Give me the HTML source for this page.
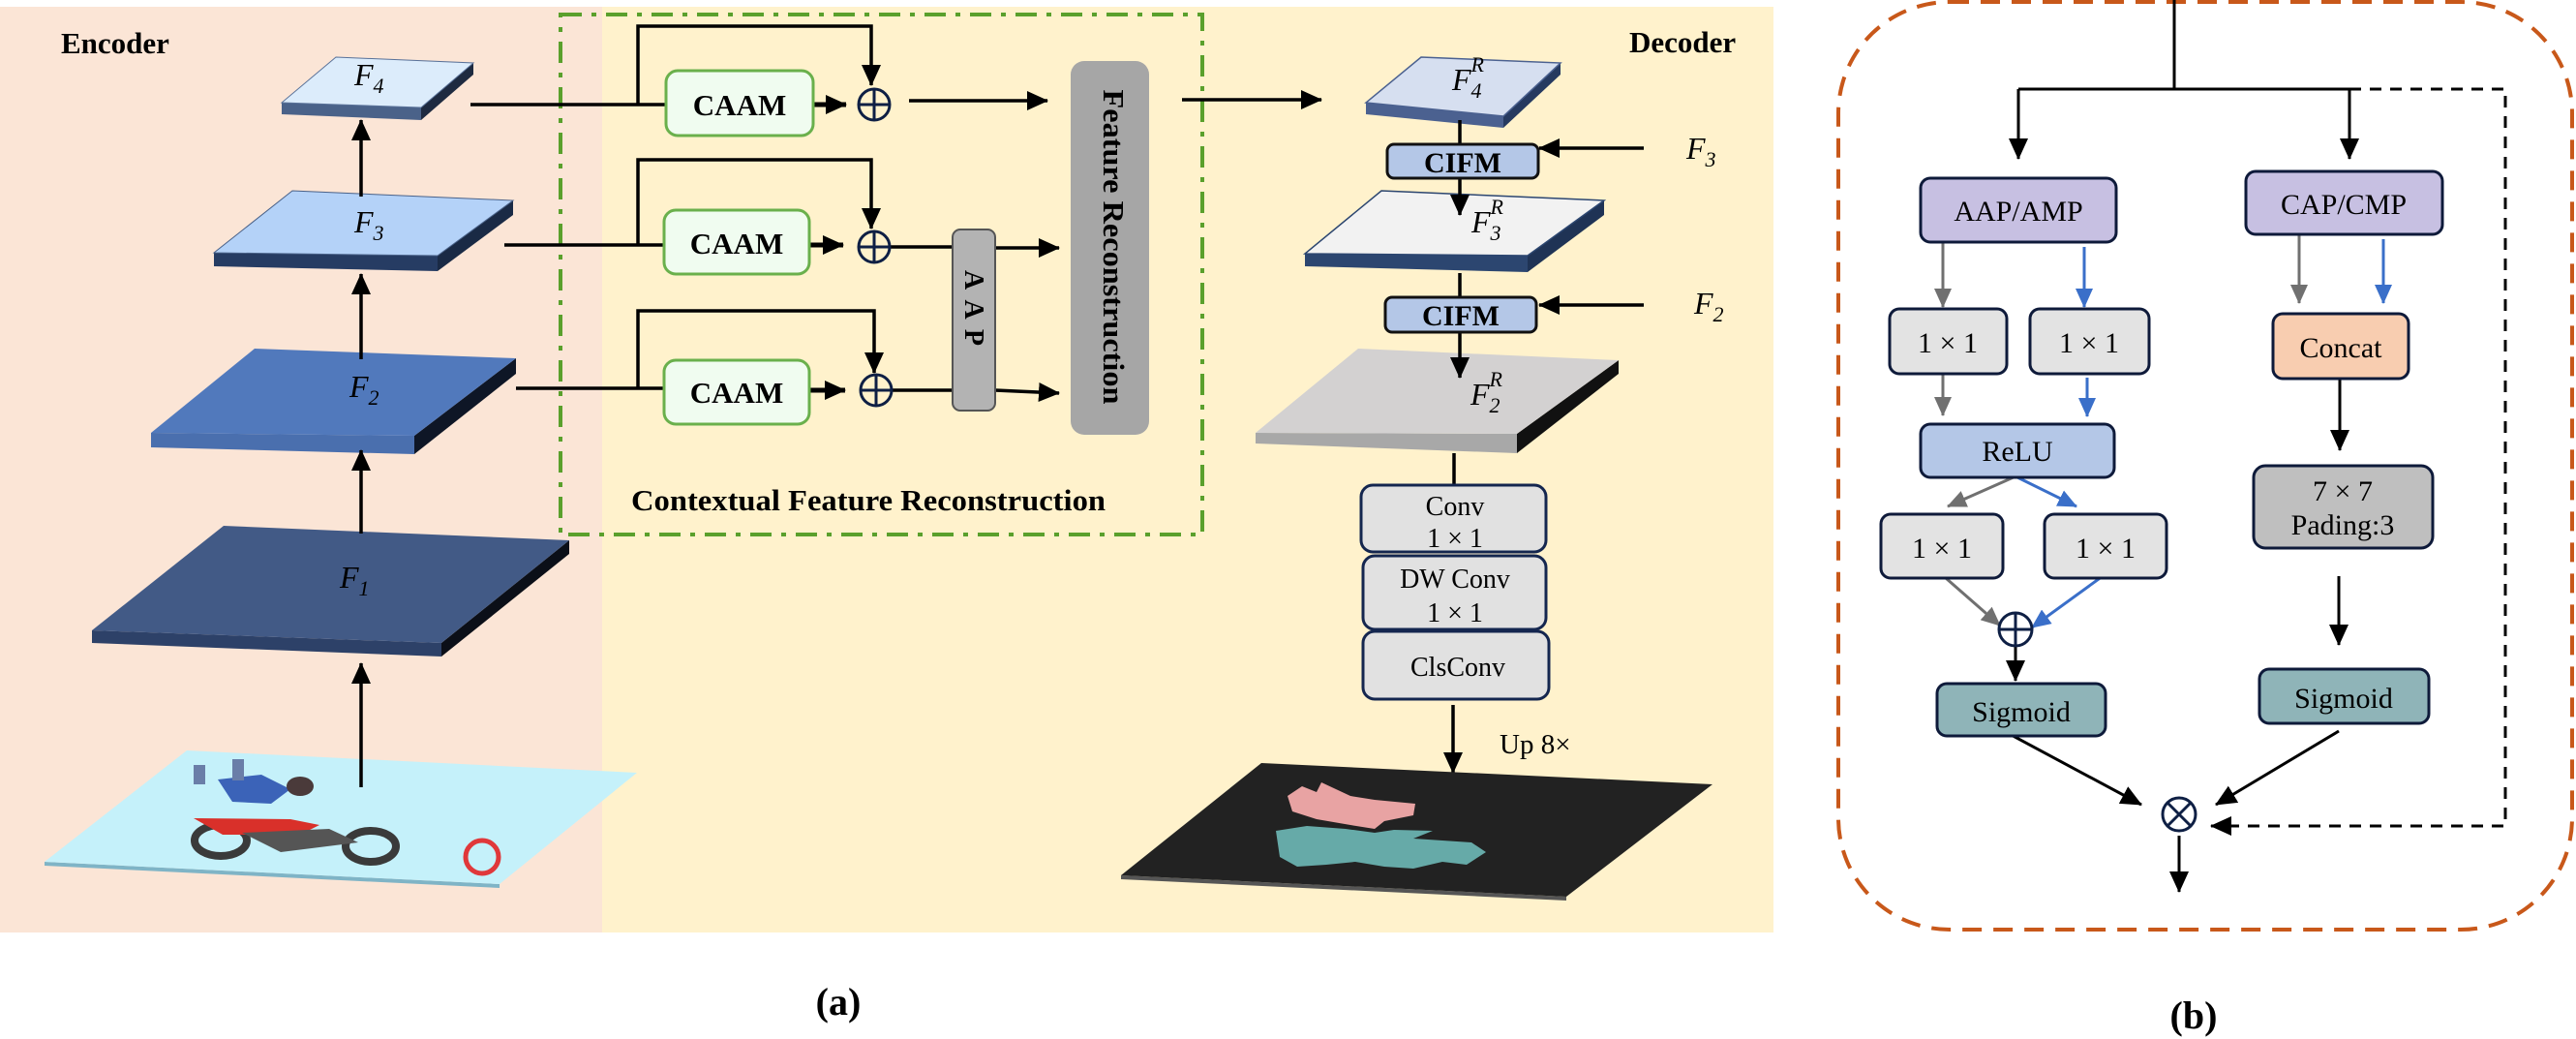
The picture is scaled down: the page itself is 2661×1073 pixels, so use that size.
<!DOCTYPE html>
<html><head><meta charset="utf-8"><style>
html,body{margin:0;padding:0;background:#fff}
svg{display:block}
text{font-family:"Liberation Serif",serif}
</style></head><body>
<svg width="2661" height="1073" viewBox="0 0 2661 1073" xmlns="http://www.w3.org/2000/svg">
<defs>
<marker id="ab" markerUnits="userSpaceOnUse" markerWidth="22" markerHeight="20" refX="21" refY="10" orient="auto"><path d="M0,0 L22,10 L0,20 z" fill="#000"/></marker>
<marker id="ag" markerUnits="userSpaceOnUse" markerWidth="20" markerHeight="18" refX="19" refY="9" orient="auto"><path d="M0,0 L20,9 L0,18 z" fill="#707070"/></marker>
<marker id="ablue" markerUnits="userSpaceOnUse" markerWidth="20" markerHeight="18" refX="19" refY="9" orient="auto"><path d="M0,0 L20,9 L0,18 z" fill="#3a6fc9"/></marker>
<clipPath id="imgclip"><polygon points="193,775 658,798 516,913 46,890"/></clipPath>
</defs>
<rect width="2661" height="1073" fill="#fff"/>
<rect x="0" y="7" width="622" height="956" fill="#fbe5d6"/>
<rect x="622" y="7" width="1210" height="956" fill="#fff2cc"/>

<text x="63" y="55" font-size="31" font-weight="bold">Encoder</text>
<text x="1683" y="54" font-size="31" font-weight="bold">Decoder</text>

<g>
<polygon points="291,106 435,111 435,124 291,118" fill="#4a6289"/>
<polygon points="489,65 435,111 435,124 489,77" fill="#1e2a40"/>
<polygon points="347,59 489,65 435,111 291,106" fill="#dcecfb" stroke="#5a7299" stroke-width="1"/>
<text x="366" y="88" font-size="32" font-style="italic">F<tspan font-size="22" dy="8">4</tspan></text>

<polygon points="221,261 452,264 452,280 221,275" fill="#263c63"/>
<polygon points="530,207 452,264 452,280 530,222" fill="#1a2a45"/>
<polygon points="302,197 530,207 452,264 221,261" fill="#b4d2f8" stroke="#4a6289" stroke-width="1"/>
<text x="366" y="240" font-size="32" font-style="italic">F<tspan font-size="22" dy="8">3</tspan></text>

<polygon points="156,447 428,450 428,469 156,462" fill="#4a6fae"/>
<polygon points="533,370 428,450 428,469 533,386" fill="#0e1626"/>
<polygon points="263,360 533,370 428,450 156,447" fill="#5179bc"/>
<text x="361" y="410" font-size="32" font-style="italic">F<tspan font-size="22" dy="8">2</tspan></text>

<polygon points="95,651 456,664 456,678 95,664" fill="#2d4168"/>
<polygon points="588,558 456,664 456,678 588,572" fill="#0b0f18"/>
<polygon points="231,543 588,558 456,664 95,651" fill="#425a86"/>
<text x="351" y="607" font-size="32" font-style="italic">F<tspan font-size="22" dy="8">1</tspan></text>

<polygon points="46,890 516,913 516,917 46,894" fill="#7fb4c6"/>
<polygon points="193,775 658,798 516,913 46,890" fill="#c5f1fa"/>
<g clip-path="url(#imgclip)">
<ellipse cx="228" cy="868" rx="27" ry="16" fill="none" stroke="#3a3a3a" stroke-width="8"/>
<ellipse cx="383" cy="874" rx="26" ry="16" fill="none" stroke="#3a3a3a" stroke-width="8"/>
<polygon points="200,845 300,846 330,852 310,862 230,862" fill="#d9302a"/>
<polygon points="250,860 340,856 370,870 290,880" fill="#555"/>
<polygon points="225,805 270,800 300,815 280,830 240,828" fill="#3b63b8"/>
<ellipse cx="310" cy="812" rx="14" ry="10" fill="#4a3a3a"/>
<rect x="200" y="790" width="12" height="20" fill="#6a7ea8"/>
<rect x="240" y="784" width="12" height="22" fill="#6a7ea8"/>
<circle cx="498" cy="885" r="17" fill="none" stroke="#e0383a" stroke-width="5"/>
</g>

<g stroke="#000" stroke-width="3.5" marker-end="url(#ab)">
<line x1="373" y1="203" x2="373" y2="124"/>
<line x1="373" y1="371" x2="373" y2="283"/>
<line x1="373" y1="551" x2="373" y2="465"/>
<line x1="373" y1="813" x2="373" y2="685"/>
</g>
</g>

<rect x="579" y="15" width="663" height="537" fill="none" stroke="#5aa02c" stroke-width="4" stroke-dasharray="22,10,5,10"/>
<text x="652" y="527" font-size="31" font-weight="bold" textLength="490" lengthAdjust="spacingAndGlyphs">Contextual Feature Reconstruction</text>

<g fill="none" stroke="#000" stroke-width="3.5">
<line x1="486" y1="108" x2="688" y2="108"/>
<path d="M659,108 V27 H900 V88" marker-end="url(#ab)"/>
<line x1="521" y1="253" x2="686" y2="253"/>
<path d="M659,253 V165 H900 V236" marker-end="url(#ab)"/>
<line x1="533" y1="401" x2="686" y2="401"/>
<path d="M659,401 V321 H903 V385" marker-end="url(#ab)"/>
<line x1="840" y1="108" x2="874" y2="108" stroke-width="5" marker-end="url(#ab)"/>
<line x1="836" y1="253" x2="871" y2="253" stroke-width="5" marker-end="url(#ab)"/>
<line x1="836" y1="403" x2="873" y2="403" stroke-width="5" marker-end="url(#ab)"/>
<line x1="939" y1="104" x2="1082" y2="104" marker-end="url(#ab)"/>
<line x1="919" y1="255" x2="984" y2="255"/>
<line x1="921" y1="403" x2="984" y2="403"/>
<line x1="1028" y1="256" x2="1094" y2="256" marker-end="url(#ab)"/>
<line x1="1028" y1="403" x2="1094" y2="406" marker-end="url(#ab)"/>
<line x1="1221" y1="103" x2="1365" y2="103" marker-end="url(#ab)"/>
</g>
<g fill="#f0fcf0" stroke="#6ab04c" stroke-width="3">
<rect x="688" y="73" width="152" height="67" rx="12"/>
<rect x="686" y="217" width="150" height="66" rx="12"/>
<rect x="686" y="372" width="150" height="66" rx="12"/>
</g>
<g font-size="31" font-weight="bold" text-anchor="middle">
<text x="764" y="119">CAAM</text>
<text x="761" y="262">CAAM</text>
<text x="761" y="416">CAAM</text>
</g>
<g fill="none" stroke="#0e1f44" stroke-width="3">
<circle cx="903" cy="108" r="16"/><path d="M887,108 H919 M903,92 V124"/>
<circle cx="903" cy="255" r="16"/><path d="M887,255 H919 M903,239 V271"/>
<circle cx="905" cy="403" r="16"/><path d="M889,403 H921 M905,387 V419"/>
</g>
<rect x="984" y="237" width="44" height="187" rx="8" fill="#b3b3b3" stroke="#555" stroke-width="2"/>
<text transform="translate(997,318) rotate(90)" font-size="28" font-weight="bold" text-anchor="middle" textLength="78" lengthAdjust="spacing">AAP</text>
<rect x="1106" y="63" width="81" height="386" rx="14" fill="#a6a6a6"/>
<text transform="translate(1140,255) rotate(90)" font-size="31" font-weight="bold" text-anchor="middle" textLength="325" lengthAdjust="spacingAndGlyphs">Feature Reconstruction</text>

<polygon points="1411,106 1553,120 1553,132 1411,118" fill="#4b6190"/>
<polygon points="1612,65 1553,120 1553,132 1612,77" fill="#263a60"/>
<polygon points="1468,59 1612,65 1553,120 1411,106" fill="#d6dff0" stroke="#4b6190" stroke-width="1.5"/>
<text x="1500" y="93" font-size="32" font-style="italic">F<tspan font-size="22" dy="8">4</tspan><tspan font-size="22" dx="-11" dy="-27">R</tspan></text>

<polygon points="1348,262 1578,264 1578,281 1348,275" fill="#2c4670"/>
<polygon points="1657,207 1578,264 1578,281 1657,222" fill="#1f3355"/>
<polygon points="1427,197 1657,207 1578,264 1348,262" fill="#f2f2f2" stroke="#2c4670" stroke-width="1.5"/>
<text x="1520" y="240" font-size="32" font-style="italic">F<tspan font-size="22" dy="8">3</tspan><tspan font-size="22" dx="-11" dy="-27">R</tspan></text>

<polygon points="1297,447 1567,448 1567,468 1297,458" fill="#a8a8a8"/>
<polygon points="1672,372 1567,448 1567,468 1672,386" fill="#111"/>
<polygon points="1403,360 1672,372 1567,448 1297,447" fill="#d3d1d1"/>
<text x="1519" y="418" font-size="32" font-style="italic">F<tspan font-size="22" dy="8">2</tspan><tspan font-size="22" dx="-11" dy="-27">R</tspan></text>

<g stroke="#000" stroke-width="3.5" fill="none">
<line x1="1508" y1="124" x2="1508" y2="149"/>
<line x1="1508" y1="184" x2="1508" y2="222" marker-end="url(#ab)"/>
<line x1="1508" y1="282" x2="1508" y2="307"/>
<line x1="1508" y1="343" x2="1508" y2="390" marker-end="url(#ab)"/>
<line x1="1502" y1="468" x2="1502" y2="501"/>
<line x1="1698" y1="153" x2="1590" y2="153" marker-end="url(#ab)"/>
<line x1="1698" y1="315" x2="1590" y2="315" marker-end="url(#ab)"/>
<line x1="1501" y1="728" x2="1501" y2="798" marker-end="url(#ab)"/>
</g>
<g fill="#b4c7e7" stroke="#111" stroke-width="3">
<rect x="1433" y="149" width="156" height="35" rx="7"/>
<rect x="1431" y="307" width="156" height="36" rx="7"/>
</g>
<g font-size="30" font-weight="bold" text-anchor="middle">
<text x="1511" y="178">CIFM</text>
<text x="1509" y="336">CIFM</text>
</g>
<text x="1742" y="164" font-size="32" font-style="italic">F<tspan font-size="22" dy="8">3</tspan></text>
<text x="1750" y="324" font-size="32" font-style="italic">F<tspan font-size="22" dy="8">2</tspan></text>

<g fill="#e1e1e1" stroke="#14264f" stroke-width="3">
<rect x="1406" y="501" width="191" height="69" rx="12"/>
<rect x="1408" y="574" width="189" height="76" rx="12"/>
<rect x="1408" y="652" width="192" height="70" rx="12"/>
</g>
<g font-size="28" text-anchor="middle">
<text x="1503" y="532">Conv</text>
<text x="1503" y="565">1 × 1</text>
<text x="1503" y="607">DW Conv</text>
<text x="1503" y="642">1 × 1</text>
<text x="1506" y="698">ClsConv</text>
</g>
<text x="1549" y="778" font-size="29">Up 8×</text>

<polygon points="1158,904 1618,926 1618,930 1158,908" fill="#555"/>
<polygon points="1303,788 1769,810 1618,926 1158,904" fill="#222"/>
<path d="M1330,822 L1345,812 L1360,818 L1365,808 L1380,815 L1395,822 L1420,826 L1462,830 L1460,842 L1430,848 L1420,856 L1395,852 L1360,846 L1335,838 Z" fill="#e8a3a3"/>
<path d="M1318,858 L1350,853 L1390,856 L1420,860 L1440,857 L1480,858 L1460,866 L1520,870 L1535,880 L1515,893 L1490,890 L1460,897 L1430,895 L1400,890 L1370,893 L1340,895 L1322,885 Z" fill="#66aaa8"/>

<text x="866" y="1048" font-size="40" font-weight="bold" text-anchor="middle">(a)</text>
<text x="2266" y="1062" font-size="40" font-weight="bold" text-anchor="middle">(b)</text>

<rect x="1899" y="2" width="758" height="958" rx="115" fill="none" stroke="#c8581a" stroke-width="4" stroke-dasharray="20,12"/>
<g stroke="#000" stroke-width="3" fill="none">
<line x1="2246" y1="0" x2="2246" y2="92"/>
<line x1="2085" y1="92" x2="2427" y2="92"/>
<path d="M2427,92 H2588 V853 H2284" stroke-dasharray="12,9" marker-end="url(#ab)"/>
<line x1="2085" y1="92" x2="2085" y2="164" marker-end="url(#ab)"/>
<line x1="2427" y1="92" x2="2427" y2="164" marker-end="url(#ab)"/>
<line x1="2417" y1="391" x2="2417" y2="465" marker-end="url(#ab)"/>
<line x1="2416" y1="595" x2="2416" y2="666" marker-end="url(#ab)"/>
<line x1="2082" y1="667" x2="2082" y2="703" marker-end="url(#ab)"/>
<line x1="2072" y1="756" x2="2212" y2="831" marker-end="url(#ab)"/>
<line x1="2416" y1="755" x2="2289" y2="831" marker-end="url(#ab)"/>
<line x1="2251" y1="863" x2="2251" y2="921" marker-end="url(#ab)"/>
</g>
<g stroke="#707070" stroke-width="3" fill="none" marker-end="url(#ag)">
<line x1="2007" y1="250" x2="2007" y2="317"/>
<line x1="2007" y1="386" x2="2007" y2="429"/>
<line x1="2375" y1="242" x2="2375" y2="313"/>
<line x1="2082" y1="492" x2="2012" y2="523"/>
<line x1="2010" y1="597" x2="2066" y2="646"/>
</g>
<g stroke="#3a6fc9" stroke-width="3" fill="none" marker-end="url(#ablue)">
<line x1="2153" y1="255" x2="2153" y2="317"/>
<line x1="2156" y1="390" x2="2156" y2="430"/>
<line x1="2462" y1="247" x2="2462" y2="313"/>
<line x1="2082" y1="492" x2="2145" y2="523"/>
<line x1="2172" y1="595" x2="2099" y2="648"/>
</g>
<g stroke="#0e1a3a" stroke-width="3">
<rect x="1984" y="184" width="202" height="66" rx="10" fill="#c7c0e2"/>
<rect x="2320" y="177" width="203" height="65" rx="10" fill="#c7c0e2"/>
<rect x="1952" y="319" width="121" height="67" rx="10" fill="#e3e3e3"/>
<rect x="2097" y="319" width="123" height="67" rx="10" fill="#e3e3e3"/>
<rect x="1984" y="438" width="200" height="55" rx="10" fill="#b4c7e7"/>
<rect x="1943" y="531" width="126" height="66" rx="10" fill="#e3e3e3"/>
<rect x="2112" y="531" width="126" height="66" rx="10" fill="#e3e3e3"/>
<rect x="2348" y="324" width="140" height="67" rx="10" fill="#f8cdb0"/>
<rect x="2328" y="481" width="185" height="85" rx="12" fill="#bfbfbf"/>
<rect x="2001" y="706" width="174" height="54" rx="10" fill="#8fb4b8"/>
<rect x="2334" y="691" width="175" height="56" rx="10" fill="#8fb4b8"/>
</g>
<g font-size="30" text-anchor="middle">
<text x="2085" y="228">AAP/AMP</text>
<text x="2421" y="221">CAP/CMP</text>
<text x="2012" y="364">1 × 1</text>
<text x="2158" y="364">1 × 1</text>
<text x="2084" y="476">ReLU</text>
<text x="2006" y="576">1 × 1</text>
<text x="2175" y="576">1 × 1</text>
<text x="2418" y="369">Concat</text>
<text x="2420" y="517">7 × 7</text>
<text x="2420" y="552">Pading:3</text>
<text x="2088" y="745">Sigmoid</text>
<text x="2421" y="731">Sigmoid</text>
</g>
<g fill="#fff" stroke="#0e1f44" stroke-width="3">
<circle cx="2082" cy="650" r="17"/>
<circle cx="2251" cy="841" r="17"/>
</g>
<path d="M2065,650 H2099 M2082,633 V667" stroke="#0e1f44" stroke-width="3"/>
<path d="M2239,829 L2263,853 M2263,829 L2239,853" stroke="#0e1f44" stroke-width="3"/>
</svg>
</body></html>
